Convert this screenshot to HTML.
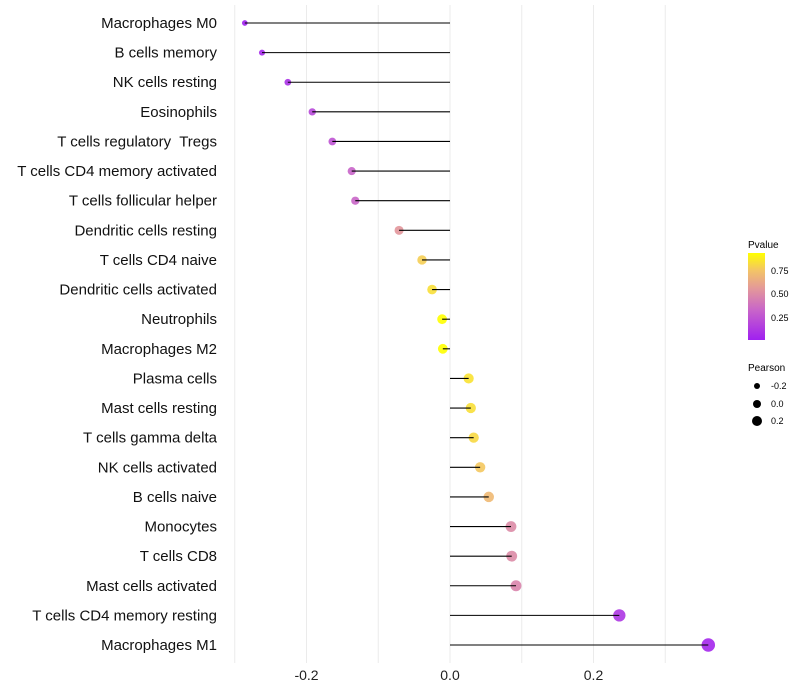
<!DOCTYPE html>
<html><head><meta charset="utf-8"><style>
body{margin:0;background:#fff;}
svg{display:block;font-family:"Liberation Sans",sans-serif;}
</style></head><body>
<svg id="chart" width="800" height="700">
<defs>
<linearGradient id="pgrad" x1="0" y1="1" x2="0" y2="0">
<stop offset="0" stop-color="#A020F0"/><stop offset="0.35" stop-color="#C966C8"/>
<stop offset="0.6" stop-color="#E49A98"/><stop offset="0.8" stop-color="#F3C466"/>
<stop offset="1" stop-color="#FFFF00"/></linearGradient>
</defs>
<g id="grid"></g>
<g id="marks"></g>
<g id="labels"></g>
<g id="xticks"></g>
<g>
<text x="748" y="248" font-size="10" fill="#000">Pvalue</text>
<rect x="748" y="253" width="17" height="87" fill="url(#pgrad)"/>
<text x="771" y="274" font-size="9">0.75</text>
<text x="771" y="297" font-size="9">0.50</text>
<text x="771" y="321" font-size="9">0.25</text>
</g>
<g>
<text x="748" y="371" font-size="10">Pearson</text>
<circle cx="757" cy="386" r="3" fill="#000"/><text x="771" y="389" font-size="9">-0.2</text>
<circle cx="757" cy="404" r="4" fill="#000"/><text x="771" y="407" font-size="9">0.0</text>
<circle cx="757" cy="421" r="5" fill="#000"/><text x="771" y="424" font-size="9">0.2</text>
</g>
</svg>
<script>
const categories=["Macrophages M0","B cells memory","NK cells resting","Eosinophils","T cells regulatory  Tregs","T cells CD4 memory activated","T cells follicular helper","Dendritic cells resting","T cells CD4 naive","Dendritic cells activated","Neutrophils","Macrophages M2","Plasma cells","Mast cells resting","T cells gamma delta","NK cells activated","B cells naive","Monocytes","T cells CD8","Mast cells activated","T cells CD4 memory resting","Macrophages M1"];
const pearson=[-0.286,-0.262,-0.226,-0.192,-0.164,-0.137,-0.132,-0.071,-0.039,-0.025,-0.011,-0.010,0.026,0.029,0.033,0.042,0.054,0.085,0.086,0.092,0.236,0.360];
const pvalue=[0.02,0.06,0.1,0.2,0.25,0.33,0.34,0.55,0.78,0.83,0.93,0.93,0.84,0.83,0.81,0.76,0.7,0.5,0.5,0.47,0.12,0.05];
const xTicks=[-0.2,0.0,0.2];
const xGrid=[-0.3,-0.2,-0.1,0,0.1,0.2,0.3];
const NS="http://www.w3.org/2000/svg";
const x=v=>450+v*717.5;
const y=i=>23+i*(622/21);
const stops=[[0,[160,32,240]],[0.35,[201,102,200]],[0.6,[228,154,152]],[0.8,[243,196,102]],[1,[255,255,0]]];
function col(p){let t=(p-0.02)/(0.93-0.02);t=Math.max(0,Math.min(1,t));
for(let k=1;k<stops.length;k++){if(t<=stops[k][0]){const a=stops[k-1],b=stops[k];const f=(t-a[0])/(b[0]-a[0]);
return 'rgb('+a[1].map((c,j)=>Math.round(c+(b[1][j]-c)*f)).join(',')+')';}}return 'rgb(255,255,0)';}
const rad=v=>Math.sqrt(Math.max(2.5,24.5+58*v));
function mk(t,a,p){const e=document.createElementNS(NS,t);for(const k in a)e.setAttribute(k,a[k]);p.appendChild(e);return e;}
const grid=document.getElementById('grid');
xGrid.forEach(v=>{const l=mk('line',{x1:x(v),x2:x(v),y1:5,y2:663,stroke:'#ebebeb','stroke-width':1},grid);

});
const marks=document.getElementById('marks'),labels=document.getElementById('labels');
categories.forEach((c,i)=>{
const pt=mk('circle',{cx:x(pearson[i]),cy:y(i),r:rad(pearson[i]),fill:col(pvalue[i]),'fill-opacity':0.9},marks);


const ln=mk('line',{x1:x(0),x2:x(pearson[i]),y1:y(i),y2:y(i),stroke:'#000','stroke-width':1.1},marks);


const t=mk('text',{x:217,y:y(i)+5,'text-anchor':'end','font-size':15,fill:'#111','style':'white-space:pre'},labels);
t.textContent=c;

});
const xt=document.getElementById('xticks');
xTicks.forEach(v=>{const t=mk('text',{x:x(v),y:680,'text-anchor':'middle','font-size':14,fill:'#222'},xt);
t.textContent=v.toFixed(1);

});
</script>
</body></html>
